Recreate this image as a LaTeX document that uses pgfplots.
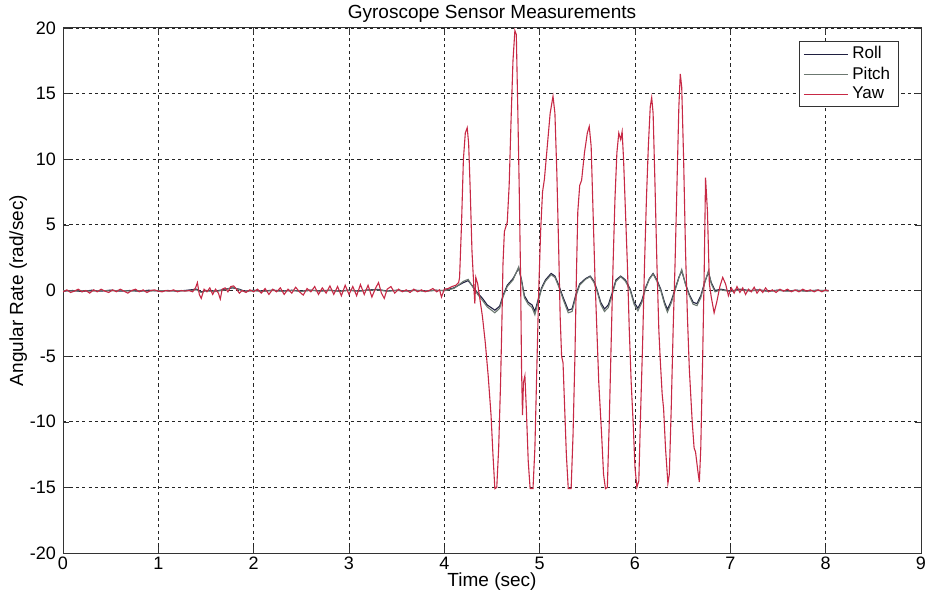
\documentclass[border=0pt]{standalone}
\usepackage{fontspec}
\setmainfont{Liberation Sans}
\usepackage{pgfplots}
\pgfplotsset{compat=1.18}
\definecolor{rollc}{rgb}{0.12,0.12,0.25}
\definecolor{pitchc}{rgb}{0.42,0.47,0.44}
\definecolor{yawc}{rgb}{0.78,0.16,0.27}
\begin{document}
\begin{tikzpicture}
\begin{axis}[
  width=429pt, height=262.5pt, scale only axis,
  xmin=0, xmax=9, ymin=-20, ymax=20,
  xtick={0,1,...,9}, ytick={-20,-15,...,20},
  /pgf/number format/assume math mode=true,
  tick label style={font=\fontsize{9}{10}\selectfont},
  xticklabel style={inner xsep=0pt, yshift=1.5pt},
  label style={font=\fontsize{9.5}{11}\selectfont},
  title style={font=\fontsize{9.5}{11}\selectfont, at={(0.5,1)}, anchor=base, inner sep=0pt, yshift=-1.5pt},
  title={Gyroscope Sensor Measurements},
  xlabel={Time (sec)}, ylabel={Angular Rate (rad/sec)},
  xlabel style={at={(0.5,0)}, anchor=base, inner sep=0pt, yshift=-16.5pt},
  ylabel style={yshift=-5.5pt},
  grid=major,
  major grid style={dash pattern=on 1.6pt off 1.6pt, black!85, line width=0.45pt},
  axis line style={black!80, line width=0.5pt},
  tick align=inside, major tick length=3pt,
  tick style={black!80},
  legend style={at={(0.974,0.975)}, anchor=north east, font=\fontsize{8.5}{10}\selectfont,
    draw=black!80, line width=0.5pt, row sep=-1.5pt, inner ysep=0.5pt, inner xsep=2pt},
  legend cell align=left,
  legend image code/.code={\draw[#1] (0pt,0pt) -- (22pt,0pt);},
]
\addplot[rollc, line width=0.55pt] table {
0.00 -0.05
0.10 0.00
0.20 -0.08
0.30 0.02
0.40 -0.05
0.50 0.03
0.60 -0.05
0.70 0.00
0.80 -0.06
0.90 0.02
1.00 -0.04
1.10 0.00
1.20 -0.05
1.30 0.02
1.40 0.10
1.45 -0.10
1.50 0.00
1.60 -0.05
1.70 0.10
1.78 0.20
1.85 0.10
1.90 -0.05
2.00 0.02
2.10 -0.05
2.20 0.03
2.30 -0.04
2.40 0.02
2.50 -0.05
2.60 0.03
2.70 -0.03
2.80 0.02
2.90 -0.05
3.00 0.03
3.10 -0.04
3.20 0.04
3.30 0.08
3.40 -0.04
3.50 0.02
3.60 -0.03
3.70 0.02
3.80 -0.04
3.90 0.02
4.00 0.00
4.10 0.20
4.20 0.60
4.25 0.75
4.30 0.30
4.35 -0.20
4.40 -0.60
4.45 -1.10
4.53 -1.50
4.58 -1.20
4.62 -0.30
4.66 0.40
4.72 0.90
4.78 1.70
4.81 0.80
4.84 -0.40
4.88 -0.90
4.92 -1.10
4.95 -1.60
4.98 -0.80
5.02 0.20
5.06 0.80
5.12 1.30
5.16 1.10
5.20 0.40
5.25 -0.60
5.30 -1.50
5.34 -1.40
5.38 -0.30
5.42 0.50
5.48 0.90
5.53 1.10
5.57 0.70
5.60 0.10
5.64 -0.90
5.68 -1.40
5.72 -1.10
5.76 -0.20
5.80 0.80
5.85 1.10
5.90 0.80
5.95 0.10
5.99 -0.90
6.03 -1.35
6.07 -0.80
6.11 0.20
6.15 0.90
6.19 1.30
6.23 0.80
6.27 0.10
6.31 -0.90
6.34 -1.45
6.38 -0.80
6.42 0.10
6.46 1.00
6.49 1.50
6.53 0.50
6.57 -0.30
6.61 -0.90
6.65 -1.00
6.69 -0.40
6.73 0.60
6.77 1.40
6.80 0.60
6.84 0.00
6.90 0.10
7.00 -0.05
7.10 0.10
7.20 0.00
7.30 0.05
7.40 -0.05
7.50 0.03
7.60 -0.03
7.70 0.02
7.80 -0.04
7.90 0.02
8.03 0.00
};
\addlegendentry{Roll}
\addplot[pitchc, line width=0.55pt] table {
0.00 -0.02
0.10 -0.04
0.20 -0.02
0.30 -0.05
0.40 0.00
0.50 -0.03
0.60 0.01
0.70 -0.04
0.80 -0.02
0.90 -0.05
1.00 0.00
1.10 -0.04
1.20 -0.01
1.30 -0.03
1.40 0.05
1.45 -0.15
1.50 -0.02
1.60 -0.08
1.70 0.05
1.78 0.25
1.85 0.05
1.90 -0.08
2.00 -0.02
2.10 -0.07
2.20 0.00
2.30 -0.06
2.40 0.00
2.50 -0.07
2.60 0.01
2.70 -0.05
2.80 0.00
2.90 -0.07
3.00 0.01
3.10 -0.06
3.20 0.02
3.30 0.05
3.40 -0.06
3.50 0.00
3.60 -0.05
3.70 0.00
3.80 -0.06
3.90 0.00
4.00 -0.02
4.10 0.15
4.20 0.70
4.25 0.85
4.30 0.25
4.35 -0.30
4.40 -0.75
4.45 -1.25
4.53 -1.70
4.58 -1.35
4.62 -0.40
4.66 0.30
4.72 0.80
4.78 1.80
4.81 0.70
4.84 -0.55
4.88 -1.05
4.92 -1.30
4.95 -1.85
4.98 -0.95
5.02 0.10
5.06 0.70
5.12 1.20
5.16 1.00
5.20 0.30
5.25 -0.75
5.30 -1.70
5.34 -1.60
5.38 -0.45
5.42 0.40
5.48 0.85
5.53 1.05
5.57 0.60
5.60 0.00
5.64 -1.05
5.68 -1.60
5.72 -1.30
5.76 -0.35
5.80 0.70
5.85 1.05
5.90 0.70
5.95 0.00
5.99 -1.05
6.03 -1.55
6.07 -0.95
6.11 0.10
6.15 0.85
6.19 1.25
6.23 0.70
6.27 0.00
6.31 -1.05
6.34 -1.65
6.38 -0.95
6.42 0.00
6.46 0.95
6.49 1.60
6.53 0.45
6.57 -0.40
6.61 -1.05
6.65 -1.15
6.69 -0.55
6.73 0.55
6.77 1.50
6.80 0.50
6.84 -0.10
6.90 0.05
7.00 -0.08
7.10 0.05
7.20 -0.04
7.30 0.02
7.40 -0.07
7.50 0.00
7.60 -0.05
7.70 0.00
7.80 -0.06
7.90 0.00
8.03 -0.03
};
\addlegendentry{Pitch}
\addplot[yawc, line width=0.55pt] table {
0.00 -0.10
0.04 0.05
0.08 -0.15
0.12 -0.05
0.16 0.10
0.20 -0.10
0.24 0.00
0.28 -0.20
0.32 0.05
0.36 -0.10
0.40 0.10
0.44 -0.05
0.48 -0.15
0.52 0.05
0.56 -0.10
0.60 0.10
0.64 -0.05
0.68 -0.20
0.72 0.00
0.76 0.10
0.80 -0.10
0.84 0.05
0.88 -0.15
0.92 0.00
0.96 0.05
1.00 -0.05
1.04 -0.10
1.08 0.00
1.12 -0.05
1.16 0.05
1.20 -0.10
1.24 0.00
1.28 -0.05
1.32 0.00
1.36 -0.10
1.39 0.20
1.41 0.60
1.43 -0.30
1.45 -0.60
1.48 0.10
1.51 -0.10
1.54 0.20
1.57 -0.30
1.60 0.10
1.63 -0.20
1.65 -0.65
1.67 0.10
1.70 0.20
1.73 -0.10
1.76 0.30
1.79 0.35
1.82 0.10
1.85 -0.20
1.88 0.00
1.92 -0.15
1.96 0.05
2.00 -0.10
2.04 0.10
2.08 -0.20
2.12 0.15
2.16 -0.30
2.20 0.10
2.24 -0.10
2.28 0.20
2.32 -0.30
2.36 0.10
2.40 -0.20
2.44 0.25
2.48 -0.10
2.52 -0.35
2.56 0.15
2.60 -0.10
2.64 0.30
2.68 -0.30
2.72 0.20
2.76 -0.20
2.80 0.35
2.84 -0.30
2.88 0.30
2.92 -0.40
2.96 0.40
3.00 -0.30
3.04 0.30
3.08 -0.40
3.12 0.45
3.16 -0.30
3.20 0.40
3.24 -0.50
3.28 0.20
3.31 0.60
3.34 -0.20
3.37 -0.60
3.40 0.10
3.44 0.30
3.48 -0.20
3.52 0.10
3.56 -0.10
3.60 0.05
3.64 -0.15
3.68 0.10
3.72 -0.10
3.76 0.05
3.80 -0.10
3.84 0.00
3.88 0.15
3.92 -0.10
3.95 0.05
3.97 -0.50
4.00 0.10
4.04 0.15
4.08 0.30
4.12 0.40
4.15 0.60
4.16 1.00
4.18 5.00
4.20 10.00
4.22 12.00
4.24 12.40
4.255 11.20
4.27 8.00
4.29 3.00
4.31 0.20
4.32 -1.00
4.33 1.00
4.35 0.50
4.37 -0.50
4.40 -2.00
4.43 -4.00
4.46 -6.50
4.49 -9.50
4.51 -12.50
4.53 -15.10
4.55 -15.00
4.57 -12.00
4.59 -7.00
4.605 -2.00
4.615 2.00
4.63 4.50
4.66 5.20
4.68 8.00
4.70 13.00
4.72 17.50
4.74 19.80
4.755 19.50
4.77 14.00
4.785 8.00
4.80 1.00
4.81 -6.00
4.82 -9.50
4.83 -7.00
4.845 -6.50
4.86 -9.00
4.88 -13.00
4.90 -15.10
4.93 -15.10
4.95 -12.00
4.97 -6.00
4.99 0.00
5.01 4.50
5.03 7.50
5.05 8.50
5.08 11.00
5.11 13.50
5.14 14.80
5.16 13.50
5.18 9.00
5.20 3.00
5.215 -2.00
5.23 -5.00
5.245 -5.50
5.26 -8.50
5.28 -12.50
5.30 -15.10
5.33 -15.10
5.35 -11.00
5.37 -5.00
5.385 1.00
5.40 6.00
5.42 8.00
5.44 8.40
5.47 10.50
5.50 12.00
5.52 12.50
5.54 11.00
5.56 6.00
5.58 1.00
5.60 -3.00
5.62 -7.00
5.65 -11.00
5.67 -14.00
5.69 -15.10
5.71 -15.00
5.73 -10.00
5.75 -4.00
5.77 2.00
5.79 7.00
5.81 10.50
5.83 12.00
5.85 11.50
5.865 12.10
5.88 10.00
5.90 6.00
5.92 2.00
5.94 -3.00
5.96 -7.00
5.98 -10.00
6.00 -13.50
6.02 -15.00
6.04 -14.50
6.06 -9.00
6.08 -4.00
6.10 2.00
6.12 7.00
6.14 11.00
6.16 14.00
6.175 14.70
6.19 13.50
6.21 8.00
6.23 2.00
6.25 -3.00
6.265 -5.30
6.285 -7.90
6.30 -9.00
6.32 -12.00
6.345 -14.70
6.36 -14.00
6.38 -9.00
6.40 -3.00
6.42 2.00
6.44 8.00
6.46 14.00
6.475 16.50
6.49 15.50
6.51 10.00
6.53 3.00
6.55 -2.00
6.57 -6.00
6.60 -10.00
6.62 -12.00
6.635 -12.30
6.66 -13.80
6.675 -14.60
6.69 -12.00
6.71 -5.00
6.725 1.00
6.74 8.60
6.76 6.00
6.78 0.50
6.80 -0.50
6.83 -1.70
6.86 -0.80
6.89 0.30
6.92 1.00
6.95 0.50
6.98 -0.40
7.01 0.20
7.04 -0.20
7.07 0.30
7.10 -0.15
7.13 0.20
7.16 -0.30
7.19 0.10
7.22 -0.10
7.25 0.25
7.28 -0.20
7.31 0.10
7.34 -0.15
7.37 0.20
7.40 -0.10
7.44 0.05
7.48 -0.15
7.52 0.10
7.56 -0.05
7.60 0.10
7.64 -0.10
7.68 0.05
7.72 -0.10
7.76 0.10
7.80 -0.05
7.84 0.05
7.88 -0.10
7.92 0.05
7.96 -0.10
8.00 0.05
8.03 -0.05
};
\addlegendentry{Yaw}
\end{axis}
\path (current axis.south west) ++(-31.5pt,-23pt);
\path (current axis.north east) ++(3pt,14pt);
\end{tikzpicture}
\end{document}
